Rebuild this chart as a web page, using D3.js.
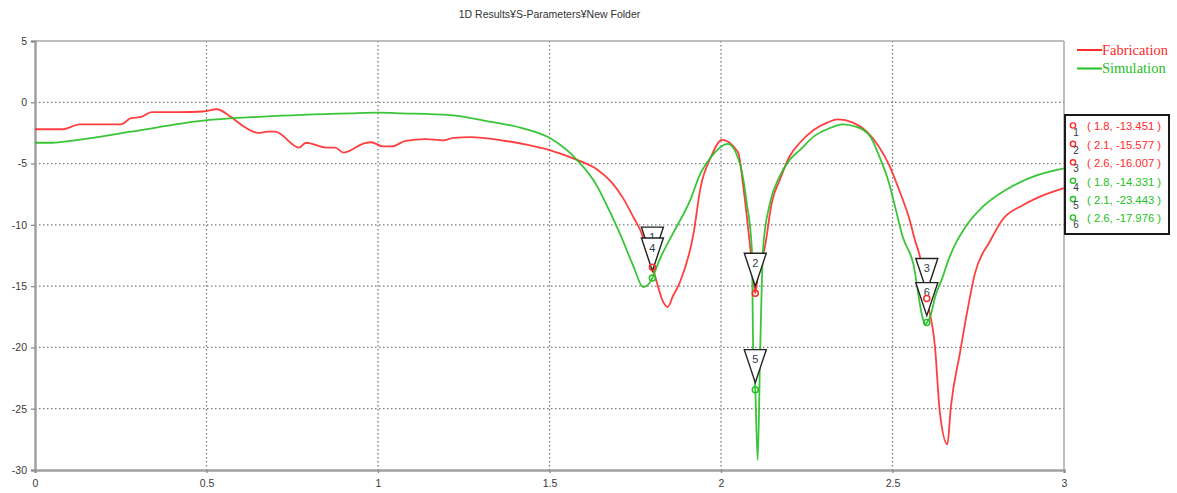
<!DOCTYPE html>
<html>
<head>
<meta charset="utf-8">
<script src="https://cdn.jsdelivr.net/npm/d3@7"></script>
<style>
  html, body { margin: 0; padding: 0; background: #fff; }
  svg { display: block; }
</style>
</head>
<body>
<svg id="chart" width="1177" height="493"></svg>
<script>
// S11 magnitude (dB) versus frequency (GHz)
const fabFreq = [0, 0.08, 0.13, 0.25, 0.28, 0.31, 0.34, 0.42, 0.49, 0.53, 0.57, 0.61, 0.65, 0.68, 0.70, 0.77, 0.79, 0.85, 0.875, 0.90, 0.96, 0.98, 1.015, 1.04, 1.08, 1.14, 1.19, 1.22, 1.27, 1.36, 1.44, 1.50, 1.58, 1.64, 1.68, 1.714, 1.745, 1.77, 1.787, 1.8, 1.813, 1.83, 1.845, 1.86, 1.88, 1.92, 1.94, 1.97, 2.003, 2.05, 2.065, 2.085, 2.095, 2.1, 2.108, 2.128, 2.148, 2.172, 2.2, 2.23, 2.27, 2.31, 2.34, 2.385, 2.425, 2.46, 2.49, 2.52, 2.55, 2.565, 2.58, 2.6, 2.624, 2.638, 2.66, 2.67, 2.697, 2.717, 2.74, 2.785, 2.82, 2.88, 2.93, 3.0];
const fabS11 = [-2.2, -2.2, -1.8, -1.8, -1.3, -1.2, -0.8, -0.8, -0.75, -0.57, -1.17, -2.0, -2.5, -2.4, -2.4, -3.7, -3.3, -3.7, -3.7, -4.1, -3.35, -3.26, -3.6, -3.6, -3.15, -3.0, -3.1, -2.9, -2.85, -3.1, -3.5, -3.9, -4.7, -5.5, -6.5, -7.8, -9.4, -10.8, -12.5, -13.451, -14.7, -16.2, -16.7, -15.8, -14.7, -10.7, -7.0, -4.5, -3.07, -4.1, -6.9, -11.8, -14.5, -15.577, -14.0, -11.8, -8.2, -6.3, -4.4, -3.3, -2.26, -1.66, -1.39, -1.66, -2.4, -3.6, -5.1, -7.2, -9.6, -11.2, -12.6, -16.007, -20.0, -25.3, -27.9, -24.9, -20.4, -17.2, -14.0, -11.3, -9.6, -8.4, -7.7, -7.0];

const simFreq = [0, 0.05, 0.11, 0.28, 0.49, 0.665, 0.92, 1.0, 1.07, 1.21, 1.33, 1.42, 1.50, 1.58, 1.64, 1.66, 1.705, 1.745, 1.773, 1.787, 1.8, 1.82, 1.86, 1.91, 1.94, 1.97, 2.02, 2.055, 2.075, 2.09, 2.094, 2.1, 2.107, 2.114, 2.123, 2.143, 2.17, 2.2, 2.23, 2.27, 2.31, 2.355, 2.395, 2.435, 2.46, 2.49, 2.51, 2.53, 2.56, 2.59, 2.596, 2.6, 2.61, 2.624, 2.647, 2.66, 2.717, 2.764, 2.83, 2.91, 3.0];
const simS11 = [-3.3, -3.3, -3.13, -2.4, -1.5, -1.17, -0.9, -0.85, -0.9, -1.04, -1.6, -2.1, -2.9, -4.7, -6.9, -8.0, -10.7, -13.4, -15.07, -14.9, -14.331, -12.9, -10.7, -8.0, -5.8, -4.5, -3.4, -5.0, -8.2, -12.0, -20.5, -23.443, -29.2, -20.5, -11.8, -8.2, -6.1, -4.7, -3.9, -2.8, -2.2, -1.8, -2.0, -2.8, -4.3, -6.6, -8.8, -11.0, -13.1, -17.8, -18.1, -17.976, -17.5, -15.9, -14.2, -13.1, -10.0, -8.5, -7.15, -6.07, -5.4];

const seriesNames = ["Fabrication", "Simulation"];
const seriesColors = ["#ff2a2a", "#22c022"];

// Marker readouts: id, series index, frequency, value
const markerIds = [1, 2, 3, 4, 5, 6];
const markerSeries = [0, 0, 0, 1, 1, 1];
const markerFreq = [1.8, 2.1, 2.6, 1.8, 2.1, 2.6];
const markerValue = [-13.451, -15.577, -16.007, -14.331, -23.443, -17.976];

const xTicks = [0, 0.5, 1, 1.5, 2, 2.5, 3];
const yTicks = [5, 0, -5, -10, -15, -20, -25, -30];
const titleText = "1D Results\u00a5S-Parameters\u00a5New Folder";

const svg = d3.select("#chart");
const plotLeft = 35, plotRight = 1064, plotTop = 41, plotBottom = 470;

const x = d3.scaleLinear().domain([0, 3]).range([plotLeft, plotRight]);
const y = d3.scaleLinear().domain([-30, 5]).range([plotBottom, plotTop]);

const tickFont = "'Liberation Sans Narrow', 'Arial Narrow', 'Liberation Sans', Arial, sans-serif";

// Title
svg.append("text")
  .attr("x", (plotLeft + plotRight) / 2).attr("y", 18)
  .attr("text-anchor", "middle")
  .attr("font-family", "'Liberation Sans', Arial, sans-serif")
  .attr("font-size", 10.5)
  .attr("fill", "#333")
  .text(titleText);

// Dotted grid
const grid = svg.append("g");
grid.selectAll("line.gx").data(xTicks.filter(d => d > 0 && d < 3)).enter()
  .append("line")
  .attr("x1", d => x(d)).attr("x2", d => x(d))
  .attr("y1", plotTop).attr("y2", plotBottom)
  .attr("stroke", "#7a7a7a").attr("stroke-width", 1.3)
  .attr("stroke-dasharray", "1.5,2.5");
grid.selectAll("line.gy").data(yTicks.filter(d => d < 5 && d > -30)).enter()
  .append("line")
  .attr("x1", plotLeft).attr("x2", plotRight)
  .attr("y1", d => y(d)).attr("y2", d => y(d))
  .attr("stroke", "#7a7a7a").attr("stroke-width", 1.3)
  .attr("stroke-dasharray", "1.5,2.5");

// Frame: top and right edges
svg.append("line").attr("x1", plotLeft).attr("x2", plotRight).attr("y1", plotTop).attr("y2", plotTop)
  .attr("stroke", "#a8a8a8").attr("stroke-width", 1.5);
svg.append("line").attr("x1", plotRight).attr("x2", plotRight).attr("y1", plotTop).attr("y2", plotBottom)
  .attr("stroke", "#a8a8a8").attr("stroke-width", 1.5);

// Axes
const yAxis = d3.axisLeft(y).tickValues(yTicks).tickSize(4).tickPadding(4).tickFormat(d => String(d));
const xAxis = d3.axisBottom(x).tickValues(xTicks).tickSize(3).tickPadding(7).tickFormat(d => String(d));

const gy = svg.append("g").attr("transform", `translate(${plotLeft},0)`).call(yAxis);
const gx = svg.append("g").attr("transform", `translate(0,${plotBottom})`).call(xAxis);
[gx, gy].forEach(g => {
  g.select(".domain").attr("stroke", "#a0a0a0").attr("stroke-width", 2.5);
  g.selectAll(".tick line").attr("stroke", "#888").attr("stroke-width", 1.2);
  g.selectAll(".tick text")
    .attr("font-family", tickFont)
    .attr("font-size", 10.5)
    .attr("fill", "#3a3a3a");
});

// Curves
const line = d3.line().x(d => x(d[0])).y(d => y(d[1])).curve(d3.curveMonotoneX);
const fabData = fabFreq.map((f, i) => [f, fabS11[i]]);
const simData = simFreq.map((f, i) => [f, simS11[i]]);
const curves = svg.append("g");
[fabData, simData].forEach((data, i) => {
  curves.append("path")
    .datum(data)
    .attr("d", line)
    .attr("fill", "none")
    .attr("stroke", seriesColors[i])
    .attr("stroke-width", 1.8)
    .attr("stroke-opacity", 0.9)
    .attr("stroke-linejoin", "round");
});

// Marker triangles with ids, then the point rings
const markers = svg.append("g");
markerIds.forEach((id, i) => {
  const px = x(markerFreq[i]), py = y(markerValue[i]);
  const t = py - 40, tip = py - 7, hw = 11;
  const g = markers.append("g");
  g.append("path")
    .attr("d", `M${px - hw},${t} L${px + hw},${t} L${px},${tip} Z`)
    .attr("fill", "#fff")
    .attr("stroke", "#222")
    .attr("stroke-width", 1.4)
    .attr("stroke-linejoin", "miter");
  g.append("text")
    .attr("x", px).attr("y", t + 10)
    .attr("dy", "0.35em")
    .attr("text-anchor", "middle")
    .attr("font-family", "'Liberation Sans', Arial, sans-serif")
    .attr("font-size", 11)
    .attr("fill", "#2f3a4a")
    .text(id);
});
markerIds.forEach((id, i) => {
  markers.append("circle")
    .attr("cx", x(markerFreq[i])).attr("cy", y(markerValue[i]))
    .attr("r", 3)
    .attr("fill", "none")
    .attr("stroke", seriesColors[markerSeries[i]])
    .attr("stroke-width", 1.5);
});

// Legend
const legend = svg.append("g");
seriesNames.forEach((name, i) => {
  const ly = 50 + i * 18.5;
  legend.append("line")
    .attr("x1", 1077).attr("x2", 1102).attr("y1", ly).attr("y2", ly)
    .attr("stroke", seriesColors[i]).attr("stroke-width", 2);
  legend.append("text")
    .attr("x", 1102).attr("y", ly).attr("dy", "0.32em")
    .attr("font-family", "'Liberation Serif', 'Times New Roman', serif")
    .attr("font-size", 14.5)
    .attr("fill", seriesColors[i])
    .text(name);
});

// Marker readout box
const box = svg.append("g");
box.append("rect")
  .attr("x", 1065).attr("y", 115).attr("width", 104).attr("height", 119)
  .attr("fill", "#fff").attr("stroke", "#1a1a1a").attr("stroke-width", 2);
const fmt = v => String(v);
markerIds.forEach((id, i) => {
  const ry = 125.5 + i * 18.4;
  const c = seriesColors[markerSeries[i]];
  box.append("circle")
    .attr("cx", 1073).attr("cy", ry).attr("r", 2.6)
    .attr("fill", "none").attr("stroke", c).attr("stroke-width", 1.4);
  box.append("text")
    .attr("x", 1076).attr("y", ry + 10)
    .attr("text-anchor", "middle")
    .attr("font-family", "'Liberation Sans', Arial, sans-serif")
    .attr("font-size", 10)
    .attr("fill", "#2f3a4a")
    .text(id);
  box.append("text")
    .attr("x", 1087).attr("y", ry + 1).attr("dy", "0.35em")
    .attr("font-family", "'Liberation Sans', Arial, sans-serif")
    .attr("font-size", 11.3)
    .attr("fill", c)
    .text(`( ${fmt(markerFreq[i])}, ${fmt(markerValue[i])} )`);
});
</script>
</body>
</html>
